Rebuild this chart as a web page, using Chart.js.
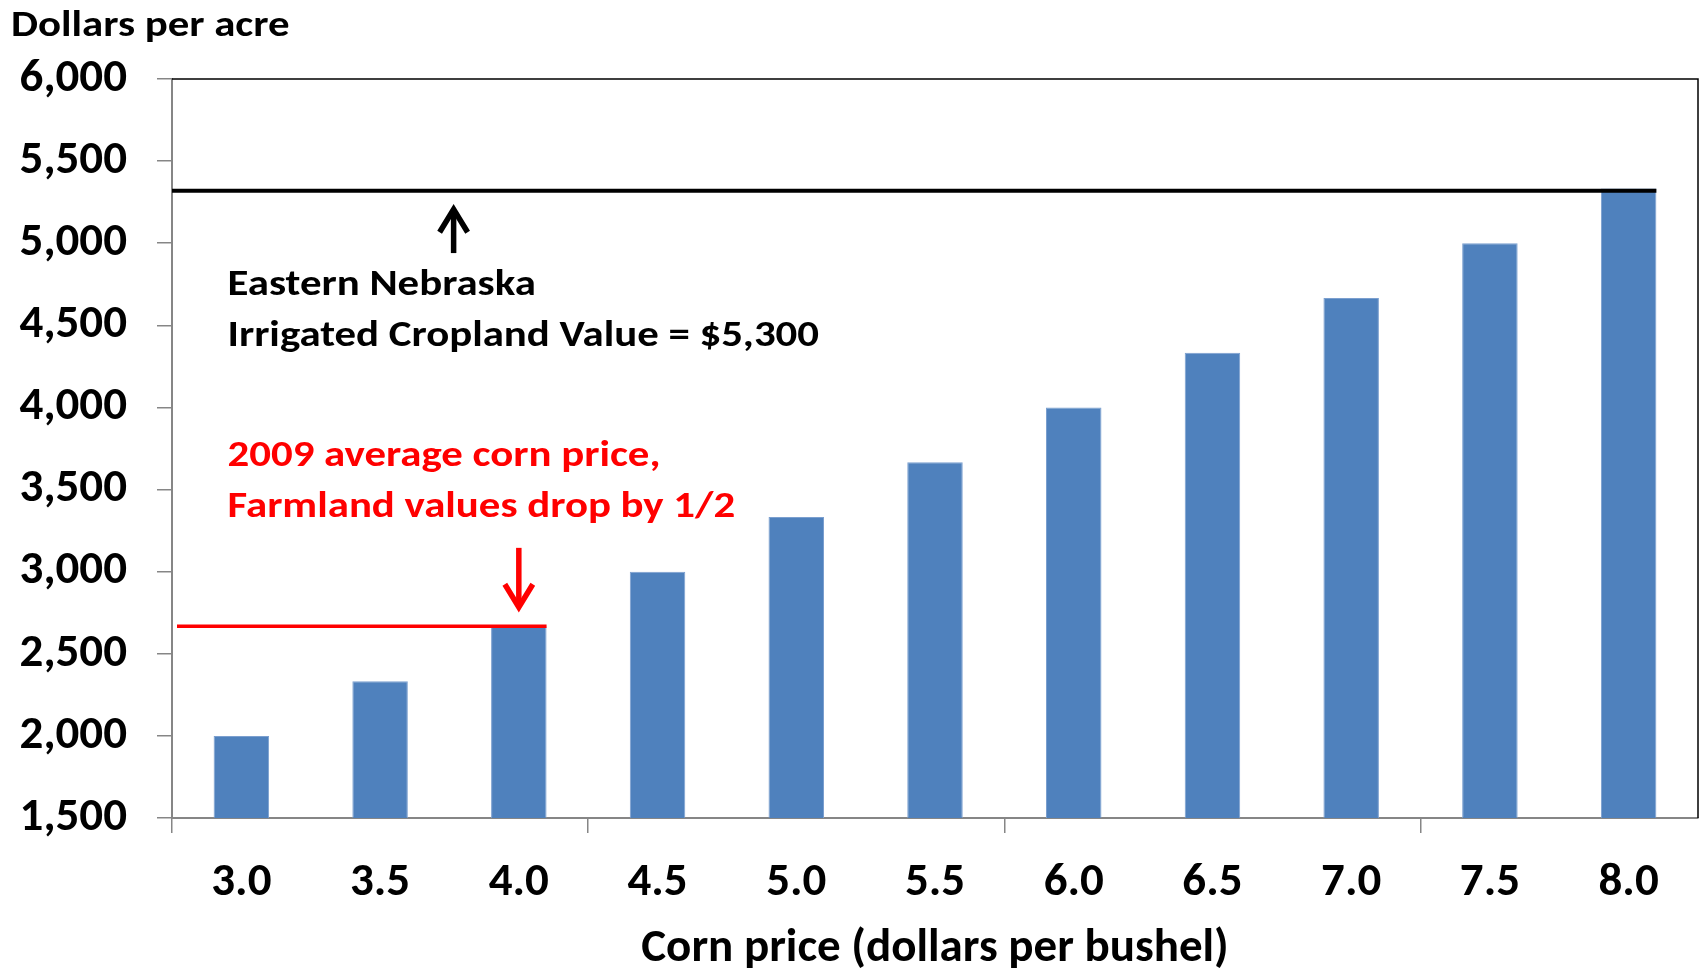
<!DOCTYPE html>
<html>
<head>
<meta charset="utf-8">
<script src="https://cdn.jsdelivr.net/npm/chart.js@4.4.0/dist/chart.umd.min.js"></script>
<style>
  html, body { margin: 0; padding: 0; background: #fff; }
</style>
</head>
<body>
<canvas id="landChart" width="1704" height="969"></canvas>
<script>
// corn price vs. implied farmland value
const cornPrices = ['3.0', '3.5', '4.0', '4.5', '5.0', '5.5', '6.0', '6.5', '7.0', '7.5', '8.0'];
const landValues = [2000, 2333, 2667, 3000, 3333, 3667, 4000, 4333, 4667, 5000, 5333];
const yMin = 1500, yMax = 6000, yStep = 500;

// reference levels
const irrigatedValue = 5320;   // Eastern Nebraska irrigated cropland
const avg2009Value = 2667;     // value at the 2009 corn price

const FONT = 'Carlito, "Liberation Sans Narrow", "Open Sans", sans-serif';
const AXIS_GRAY = '#868686';
const TEXT_STRETCH = 1.19;

function drawArrow(ctx, x, yFrom, yTo, color) {
    const dir = Math.sign(yTo - yFrom);
    ctx.save();
    ctx.strokeStyle = color;
    ctx.lineWidth = 5.5;
    ctx.beginPath();
    ctx.moveTo(x, yFrom);
    ctx.lineTo(x, yTo - dir * 4);
    ctx.stroke();
    ctx.lineJoin = 'miter';
    ctx.beginPath();
    ctx.moveTo(x - 14, yTo - dir * 26);
    ctx.lineTo(x, yTo - dir * 3);
    ctx.lineTo(x + 14, yTo - dir * 26);
    ctx.stroke();
    ctx.restore();
}

// text a bit wider than the font, like the source picture
function wideText(ctx, text, x, y) {
    ctx.save();
    ctx.translate(x, y);
    ctx.scale(TEXT_STRETCH, 1);
    ctx.fillText(text, 0, 0);
    ctx.restore();
}

const overlayPlugin = {
    id: 'overlay',
    beforeDatasetsDraw(chart) {
        const { ctx, chartArea } = chart;
        // top and right frame of the plot area
        ctx.save();
        ctx.strokeStyle = '#000';
        ctx.lineWidth = 1.5;
        ctx.beginPath();
        ctx.moveTo(chartArea.left, chartArea.top);
        ctx.lineTo(chartArea.right, chartArea.top);
        ctx.lineTo(chartArea.right, chartArea.bottom);
        ctx.stroke();
        ctx.restore();
    },
    afterDatasetsDraw(chart) {
        const { ctx, chartArea, scales: { x, y } } = chart;
        const bars = chart.getDatasetMeta(0).data;
        const barRight = i => bars[i].x + bars[i].width / 2;

        ctx.save();
        // black level line
        ctx.strokeStyle = '#000';
        ctx.lineWidth = 4;
        ctx.beginPath();
        ctx.moveTo(chartArea.left, y.getPixelForValue(irrigatedValue));
        ctx.lineTo(barRight(10), y.getPixelForValue(irrigatedValue));
        ctx.stroke();

        // red level line
        ctx.strokeStyle = '#ff0000';
        ctx.lineWidth = 3.5;
        ctx.beginPath();
        ctx.moveTo(chartArea.left + 5, y.getPixelForValue(avg2009Value));
        ctx.lineTo(barRight(2), y.getPixelForValue(avg2009Value));
        ctx.stroke();

        drawArrow(ctx, x.getPixelForValue(1.53), y.getPixelForValue(4940), y.getPixelForValue(5225), '#000');
        drawArrow(ctx, x.getPixelForValue(2), y.getPixelForValue(3145), y.getPixelForValue(2765), '#ff0000');

        // notes
        const noteX = x.getPixelForValue(-0.1);
        ctx.font = `bold 36px ${FONT}`;
        ctx.textAlign = 'left';
        ctx.textBaseline = 'middle';
        ctx.fillStyle = '#000';
        wideText(ctx, 'Eastern Nebraska', noteX, y.getPixelForValue(4740));
        wideText(ctx, 'Irrigated Cropland Value = $5,300', noteX, y.getPixelForValue(4430));
        ctx.fillStyle = '#ff0000';
        wideText(ctx, '2009 average corn price,', noteX, y.getPixelForValue(3700));
        wideText(ctx, 'Farmland values drop by 1/2', noteX, y.getPixelForValue(3385));

        // unit label over the y axis
        ctx.fillStyle = '#000';
        ctx.textBaseline = 'alphabetic';
        wideText(ctx, 'Dollars per acre', 11, 36);
        ctx.restore();
    }
};

const ctx = document.getElementById('landChart').getContext('2d');
const landChart = new Chart(ctx, {
    type: 'bar',
    data: {
        labels: cornPrices,
        datasets: [{
            label: 'Farmland value',
            data: landValues,
            backgroundColor: '#4f81bd',
            borderColor: '#7b9fcf',
            borderWidth: 1,
            barPercentage: 0.4,
            categoryPercentage: 1.0
        }]
    },
    options: {
        responsive: false,
        animation: false,
        layout: { padding: { top: 79, right: 6, bottom: 0, left: 0 } },
        plugins: {
            legend: { display: false },
            tooltip: { enabled: false }
        },
        scales: {
            x: {
                afterFit: scale => { scale.height = 151; },
                grid: {
                    offset: true,
                    drawOnChartArea: false,
                    tickLength: 15,
                    lineWidth: 1.5,
                    color: c => (c.index % 3 === 0 ? AXIS_GRAY : 'rgba(0,0,0,0)')
                },
                border: { color: AXIS_GRAY, width: 2 },
                ticks: {
                    color: '#000',
                    padding: 22,
                    font: { family: FONT, size: 47, weight: 'bold' }
                },
                title: {
                    display: true,
                    text: 'Corn price (dollars per bushel)',
                    color: '#000',
                    padding: 0,
                    font: { family: FONT, size: 47, weight: 'bold', lineHeight: '40px' }
                }
            },
            y: {
                min: yMin,
                max: yMax,
                afterFit: scale => { scale.width = 172; },
                grid: {
                    drawOnChartArea: false,
                    tickLength: 15,
                    lineWidth: 1.5,
                    color: AXIS_GRAY
                },
                border: { color: AXIS_GRAY, width: 2 },
                ticks: {
                    stepSize: yStep,
                    color: '#000',
                    padding: 30,
                    font: { family: FONT, size: 47, weight: 'bold' },
                    callback: v => v.toLocaleString('en-US')
                }
            }
        }
    },
    plugins: [overlayPlugin]
});
</script>
</body>
</html>
